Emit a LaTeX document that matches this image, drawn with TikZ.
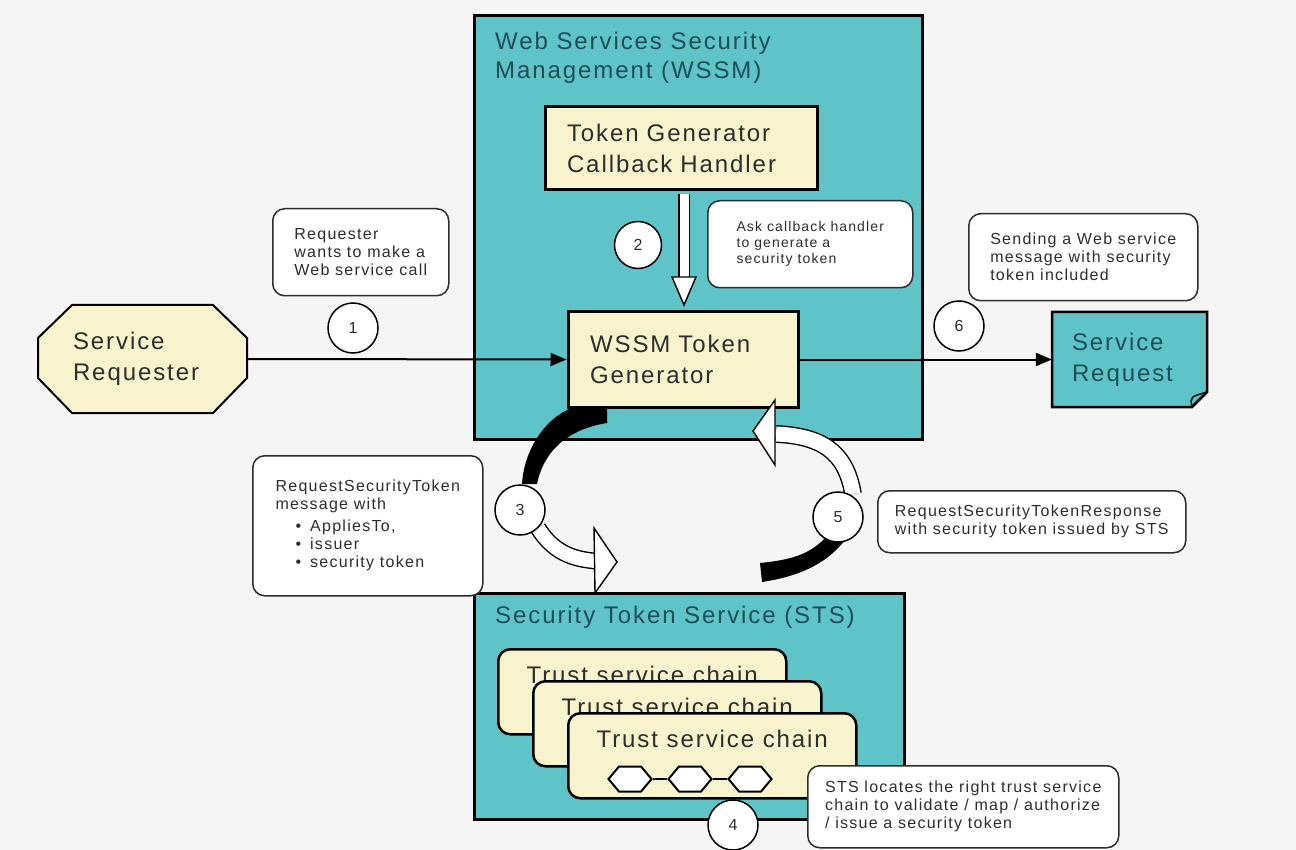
\documentclass[tikz,border=0pt]{standalone}
\usepackage{fontspec}
\setmainfont{Liberation Sans}[LetterSpace=8]
\usetikzlibrary{arrows.meta, calc, shapes.symbols, positioning}

\definecolor{bgcol}{RGB}{245,245,245}
\definecolor{tealbox}{RGB}{94,196,200}
\definecolor{tealtxt}{RGB}{28,78,86}
\definecolor{paleyel}{RGB}{247,243,204}
\definecolor{inkgray}{RGB}{45,45,45}

\tikzset{
  bigfont/.style={font=\fontsize{24}{31}\selectfont},
  notefont/.style={font=\fontsize{16}{18}\selectfont},
  panel/.style={draw=black, line width=3pt, fill=tealbox},
  paneltitle/.style={font=\fontsize{24}{29}\selectfont, text=tealtxt, align=left, anchor=north west, inner sep=0pt},
  yelbox/.style={draw=black, line width=3pt, fill=paleyel, bigfont, text=inkgray, align=left, inner xsep=22pt, inner ysep=0pt},
  note/.style={draw=inkgray, line width=1.5pt, fill=white, rounded corners=12pt, notefont, text=inkgray, align=left, anchor=north west, inner sep=0pt},
  stepnum/.style={circle, draw=black, line width=1.5pt, fill=white, minimum size=50pt, inner sep=0pt, font=\fontsize{16}{16}\selectfont, text=inkgray},
  flow/.style={line width=2pt, -{Triangle[length=16pt,width=13pt]}},
  hollow/.style={double=white, double distance=12pt, line width=1.4pt},
  headtip/.style={draw=black, line width=1.4pt, fill=white, line join=miter},
  chainbox/.style={draw=black, line width=2.5pt, fill=paleyel, rounded corners=12pt, minimum width=288pt, minimum height=85pt, anchor=north west, inner sep=0pt},
  hexa/.style={signal, signal to=east and west, signal pointer angle=100, draw=black, line width=2pt, fill=white, minimum width=43pt, minimum height=25pt, inner sep=0pt},
}

\begin{document}
\begin{tikzpicture}[x=1pt, y=-1pt]
  \fill[bgcol] (0,0) rectangle (1296,850);
  \useasboundingbox (0,0) rectangle (1296,850);

  % WSSM panel
  \node[panel, anchor=north west, minimum width=448pt, minimum height=424pt] (wssm) at (473,14) {};
  \node[paneltitle] (wssmtitle) at (495,32) {Web Services Security\\Management (WSSM)};
  \node[yelbox, text width=228pt, minimum height=83pt] (cbh) at (681,148.5) {Token Generator\\Callback Handler};
  \node[yelbox, text width=186pt, minimum height=95pt] (tokgen) at (683,359.5) {WSSM Token\\Generator};

  % STS panel
  \node[panel, anchor=north west, minimum width=430pt, minimum height=226pt] (sts) at (473,592) {};
  \node[paneltitle] (ststitle) at (495,606) {Security Token Service (STS)};
  \foreach \i/\x/\y in {1/497/648, 2/532/680, 3/567/712} {
    \node[chainbox] (chain\i) at (\x,\y) {};
    \node[bigfont, text=inkgray, anchor=base] (chaintxt\i) at ($(chain\i.north)+(0,35)$) {Trust service chain};
  }
  \node[hexa] (h1) at (630,779) {};
  \node[hexa] (h2) at (690,779) {};
  \node[hexa] (h3) at (750,779) {};
  \draw[line width=2pt] (h1.east) -- (h2.west);
  \draw[line width=2pt] (h2.east) -- (h3.west);

  % service requester
  \filldraw[fill=paleyel, line width=2pt] (72,305) -- (213,305) -- (247,338) -- (247,378) -- (213,413) -- (72,413) -- (38,378) -- (38,338) -- cycle;
  \node[bigfont, text=inkgray, align=left, text width=139pt, inner xsep=35pt, minimum height=108pt] (req) at (142.5,359) {Service\\Requester};

  % service request
  \filldraw[fill=tealbox, line width=2.5pt] (1052,312) -- (1207,312) -- (1207,392) -- (1192,407) -- (1052,407) -- cycle;
  \draw[line width=1.5pt] (1192,407) .. controls (1190,397) .. (1207,392);
  \node[bigfont, text=tealtxt, align=left, text width=115pt, inner xsep=20pt, minimum height=95pt] (sreq) at (1129.5,359.5) {Service\\Request};

  % main flow
  \draw[flow] (req.east) -- (tokgen.west);
  \draw[flow] (tokgen.east) -- (sreq.west);

  % step 2
  \coordinate (s2a) at (684,194);
  \coordinate (s2b) at (684,278);
  \draw[hollow, double distance=9pt] (s2a) -- (s2b);
  \filldraw[headtip] (672,277) -- (696,277) -- (684,305) -- cycle;

  % step 3
  \fill[black] (572,408) -- (607,408) -- (607,423) .. controls (575,428) and (545,445) .. (537,484) -- (522,484) .. controls (524,450) and (545,418) .. (572,408) -- cycle;
  \coordinate (s3a) at (538,528);
  \coordinate (s3b) at (595,561);
  \draw[hollow, double distance=14pt] (s3a) .. controls (553,552) and (572,559) .. (s3b);
  \filldraw[headtip] (594,528) -- (617,562) -- (595,593) -- cycle;

  % step 5
  \fill[black] (827,536) .. controls (810,555) and (790,560) .. (760,563) -- (762,582) .. controls (795,577) and (825,566) .. (845,540) -- cycle;
  \coordinate (s5a) at (853,494);
  \coordinate (s5b) at (776,434);
  \draw[hollow, double distance=15pt] (s5a) .. controls (846,452) and (822,436) .. (s5b);
  \filldraw[headtip] (775,400) -- (753,431) -- (775,465) -- cycle;

  % step numbers
  \node[stepnum] (n1) at (353,328) {1};
  \node[stepnum, minimum size=47pt] (n2) at (638,245) {2};
  \node[stepnum] (n3) at (520,510) {3};
  \node[stepnum] (n4) at (733,825) {4};
  \node[stepnum] (n5) at (838,517) {5};
  \node[stepnum] (n6) at (959,326) {6};

  % notes
  \node[note, minimum width=176pt, minimum height=87pt] (note1) at (272,208) {Requester\\wants to make a\\Web service call};
  \node[note, minimum width=205pt, minimum height=87pt, font=\fontsize{14}{16}\selectfont] (note2) at (707,200) {Ask callback handler\\to generate a\\security token};
  \node[note, minimum width=230pt, minimum height=140pt] (note3) at (252,455) {RequestSecurityToken\\message with\\[4pt]
    \hspace*{20pt}•\hspace*{9pt}AppliesTo,\\
    \hspace*{20pt}•\hspace*{9pt}issuer\\
    \hspace*{20pt}•\hspace*{9pt}security token};
  \node[note, minimum width=311pt, minimum height=82pt] (note4) at (807,765) {STS locates the right trust service\\chain to validate / map / authorize\\/ issue a security token};
  \node[note, minimum width=308pt, minimum height=62pt] (note5) at (877,490) {RequestSecurityTokenResponse\\with security token issued by STS};
  \node[note, minimum width=229pt, minimum height=87pt] (note6) at (968,213) {Sending a Web service\\message with security\\token included};
\end{tikzpicture}
\end{document}
